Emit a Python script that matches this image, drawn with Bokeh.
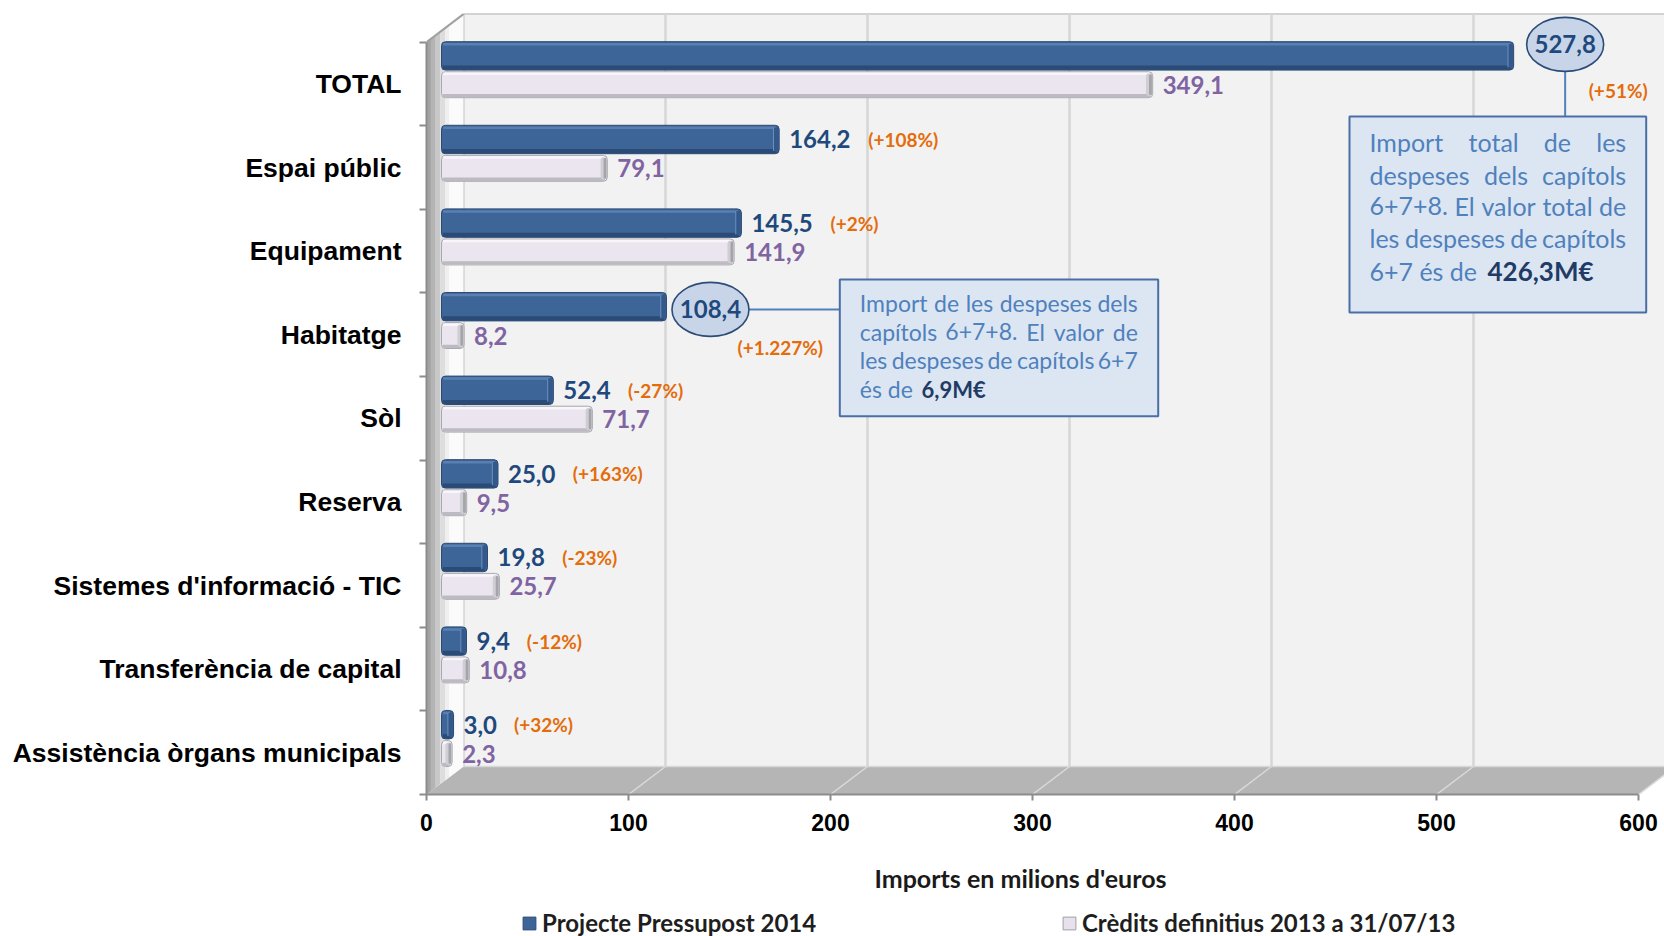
from bokeh.plotting import figure
from bokeh.layouts import column
from bokeh.models import Range1d, FixedTicker, Legend, LegendItem
from bokeh.core.properties import value
from bokeh.embed import file_html
from bokeh.resources import INLINE

# ---------------- data ----------------
categories = ["TOTAL", "Espai públic", "Equipament", "Habitatge", "Sòl", "Reserva",
              "Sistemes d'informació - TIC", "Transferència de capital",
              "Assistència òrgans municipals"]
proj_2014 = [527.8, 164.2, 145.5, 108.4, 52.4, 25.0, 19.8, 9.4, 3.0]
cred_2013 = [349.1, 79.1, 141.9, 8.2, 71.7, 9.5, 25.7, 10.8, 2.3]
pct_change = ["(+51%)", "(+108%)", "(+2%)", "(+1.227%)", "(-27%)", "(+163%)",
              "(-23%)", "(-12%)", "(+32%)"]
x_ticks = [0, 100, 200, 300, 400, 500, 600]
series_names = ["Projecte Pressupost 2014", "Crèdits definitius 2013 a 31/07/13"]
x_title = "Imports en milions d'euros"
note_total = [["Import", "total", "de", "les"],
              ["despeses", "dels", "capítols"],
              ["6+7+8.", "El", "valor", "total", "de"],
              ["les", "despeses", "de", "capítols"]]
note_total_last = ("6+7 és de", "426,3M€")
note_hab = [["Import", "de", "les", "despeses", "dels"],
            ["capítols", "6+7+8.", "El", "valor", "de"],
            ["les", "despeses", "de", "capítols", "6+7"]]
note_hab_last = ("és de", "6,9M€")

# ---------------- geometry helpers (page px -> data units) ----------------
W = 1664
X0, Y0, PX, PY = 426.0, 794.0, 2.02, 83.6
TOP = 9
H1 = 842
def ux(px): return (px - X0) / PX
def uy(py): return (Y0 - py) / PY
def dxu(d): return d / PX
def dyu(d): return -d / PY

n = len(categories)
XMAX = x_ticks[-1]
DX, DY = dxu(37), 28 / PY

p = figure(width=W, height=H1, x_range=Range1d(0, (W - X0) / PX), y_range=Range1d(0, (Y0 - TOP) / PY),
           min_border_left=int(X0), min_border_right=0, min_border_top=TOP,
           min_border_bottom=H1 - int(Y0), output_backend="svg", toolbar_location=None)
p.background_fill_color = "white"
p.border_fill_color = "white"
p.outline_line_color = None
p.xgrid.grid_line_color = None
p.ygrid.grid_line_color = None

# ---------------- 3D walls ----------------
p.quad(left=DX, right=XMAX + DX + 20, bottom=DY, top=n + DY, fill_color="#f2f2f2", line_color=None)
p.line([DX, XMAX + DX + 20], [n + DY, n + DY], line_color="#d2d2d2", line_width=2)
gx = [DX + t for t in x_ticks[1:]]
p.segment(x0=gx, y0=[DY] * len(gx), x1=gx, y1=[n + DY] * len(gx), line_color="#d6d6d6", line_width=2.5)
p.segment(x0=[DX], y0=[DY], x1=[DX], y1=[n + DY], line_color="#c4c4c4", line_width=2)
# floor
p.patch([0, XMAX, XMAX + DX, DX], [0, 0, DY, DY], fill_color="#b5b5b5", line_color=None)
fx = [t for t in x_ticks[1:]]
p.segment(x0=fx, y0=[0] * len(fx), x1=[t + DX for t in fx], y1=[DY] * len(fx),
          line_color="#dadada", line_width=1.5)
p.line([DX, XMAX + DX], [DY, DY], line_color="#d8d8d8", line_width=1.5)
# left wall
strips = [(0.0, 0.12, "#a3a3a3"), (0.12, 0.25, "#b4b4b4"), (0.25, 0.38, "#c8c8c8"),
          (0.38, 0.5, "#dddddd"), (0.5, 0.62, "#efefef"), (0.62, 1.0, "#fbfbfb")]
for f0, f1, c in strips:
    p.patch([f0 * DX, f1 * DX, f1 * DX, f0 * DX], [f0 * DY, f1 * DY, n + f1 * DY, n + f0 * DY],
            fill_color=c, line_color=None)
p.line([0, DX], [n, n + DY], line_color="#a0a0a0", line_width=2)

# ---------------- bars ----------------
BX, CAP = dxu(15), dxu(6)
band_top = [n - i for i in range(n)]
DH, LH = 0.34, 0.31
dark_y = [t - 0.165 for t in band_top]
light_y = [t - 0.51 for t in band_top]
dark_r = [BX + v + CAP for v in proj_2014]
light_r = [BX + v + CAP for v in cred_2013]

p.hbar(y=dark_y, left=BX, right=dark_r, height=DH, fill_color="#3e6597",
       line_color="#2b4a75", line_width=1, border_radius=4)
p.hbar(y=[y - DH / 2 + 0.03 for y in dark_y], left=BX + 0.6, right=[r - 1.2 for r in dark_r],
       height=0.05, fill_color="#2b4b77", line_color=None)
p.hbar(y=[y + DH / 2 - 0.03 for y in dark_y], left=BX + 0.8, right=[r - 1.5 for r in dark_r],
       height=0.03, fill_color="#5a80b2", line_color=None)
p.hbar(y=dark_y, left=[r - 2.8 for r in dark_r], right=[r - 0.4 for r in dark_r], height=DH * 0.86,
       fill_color="#34588a", line_color=None, border_radius=3)
p.segment(x0=[r - 2.8 for r in dark_r], y0=[y - DH * 0.4 for y in dark_y],
          x1=[r - 2.8 for r in dark_r], y1=[y + DH * 0.4 for y in dark_y],
          line_color="#6b90c2", line_width=1)

p.hbar(y=light_y, left=BX, right=light_r, height=LH, fill_color="#ebe5f0",
       line_color="#a8a8b0", line_width=1, border_radius=4)
p.hbar(y=[y - LH / 2 + 0.025 for y in light_y], left=BX + 0.6, right=[r - 1.2 for r in light_r],
       height=0.04, fill_color="#bdbac2", line_color=None)
p.hbar(y=[y + LH / 2 - 0.025 for y in light_y], left=BX + 0.8, right=[r - 1.5 for r in light_r],
       height=0.03, fill_color="#f8f5fb", line_color=None)
p.hbar(y=light_y, left=[r - 3.3 for r in light_r], right=[r - 0.4 for r in light_r], height=LH * 0.86,
       fill_color="#cfcfd3", line_color=None, border_radius=3)
p.hbar(y=light_y, left=[r - 1.8 for r in light_r], right=[r - 0.4 for r in light_r], height=LH * 0.8,
       fill_color="#a4a4aa", line_color=None, border_radius=2)

# ---------------- labels ----------------
CW = {'a': .50, 'b': .56, 'c': .46, 'd': .56, 'e': .53, 'f': .32, 'g': .50, 'h': .56, 'i': .24,
      'j': .24, 'k': .50, 'l': .24, 'm': .85, 'n': .56, 'o': .56, 'p': .56, 'q': .56, 'r': .36,
      's': .42, 't': .34, 'u': .56, 'v': .50, 'w': .77, 'x': .49, 'y': .50, 'z': .45, 'í': .24,
      'é': .53, 'è': .53, 'ò': .56, 'ú': .56, 'E': .56, 'I': .27, 'M': .88, '+': .58, '.': .22,
      ',': .23, ' ': .19, '€': .58, '(': .30, ')': .30, '%': .80, '-': .34}
def text_w(s, size, bold=False):
    return sum(CW.get(c, .58) for c in s) * size * (1.03 if bold else 1.0)

fmt = lambda v: f"{v:.1f}".replace(".", ",")
dark_lbl = [fmt(v) for v in proj_2014]
light_lbl = [fmt(v) for v in cred_2013]

callouts = {0: dict(edx=51.5, edy=-11.5, pdx=23.5, pdy=46.0),
            3: dict(edx=44.0, edy=2.7, pdx=27.0, pdy=37.7)}
normal = [i for i in range(n) if i not in callouts]

VF = value("Lato")
VS = "24px"
p.text(x=[light_r[i] + dxu(10) for i in range(n)], y=light_y, text=light_lbl,
       text_font=VF, text_font_style="bold", text_font_size=VS, text_color="#8064a2",
       text_baseline="middle", text_align="left")
dlx = [dark_r[i] + dxu(10) for i in normal]
p.text(x=dlx, y=[dark_y[i] for i in normal], text=[dark_lbl[i] for i in normal],
       text_font=VF, text_font_style="bold", text_font_size=VS, text_color="#1f497d",
       text_baseline="middle", text_align="left")
p.text(x=[dlx[k] + dxu(text_w(dark_lbl[i], 24, True) + 16) for k, i in enumerate(normal)],
       y=[dark_y[i] for i in normal], text=[pct_change[i] for i in normal],
       text_font=VF, text_font_style="bold", text_font_size="19px", text_color="#e46c0a",
       text_baseline="middle", text_align="left")

# callout ellipses
ci = list(callouts)
ex = [dark_r[i] + dxu(callouts[i]["edx"]) for i in ci]
ey = [dark_y[i] + dyu(callouts[i]["edy"]) for i in ci]
EW, EH = dxu(77), 54 / PY
p.segment(x0=[ex[0]], y0=[ey[0] - EH / 2], x1=[ex[0]], y1=[uy(116)], line_color="#4f81bd", line_width=2)
p.segment(x0=[ex[1] + EW / 2], y0=[ey[1]], x1=[ux(839.3)], y1=[ey[1]], line_color="#4f81bd", line_width=2)
p.ellipse(x=ex, y=ey, width=EW, height=EH, fill_color="#c8d5e8", line_color="#2c4c78", line_width=1.6)
p.text(x=ex, y=ey, text=[dark_lbl[i] for i in ci], text_font=VF, text_font_style="bold",
       text_font_size=VS, text_color="#1f497d", text_baseline="middle", text_align="center")
p.text(x=[ex[k] + dxu(callouts[i]["pdx"]) for k, i in enumerate(ci)],
       y=[ey[k] + dyu(callouts[i]["pdy"]) for k, i in enumerate(ci)],
       text=[pct_change[i] for i in ci], text_font=VF, text_font_style="bold",
       text_font_size="19px", text_color="#e46c0a", text_baseline="middle", text_align="left")

# note boxes
boxes = [(1349, 1645.7, 116, 312), (839.3, 1157.7, 279, 415.7)]
p.quad(left=[ux(b[0]) for b in boxes], right=[ux(b[1]) for b in boxes],
       top=[uy(b[2]) for b in boxes], bottom=[uy(b[3]) for b in boxes],
       fill_color="#dce6f2", line_color="#4a6fa6", line_width=2)

def add_note(lines, last, left, right, ys, size, bsize, bold_x):
    lx, ly, lt, rx, ry, rt = [], [], [], [], [], []
    for words, yy in zip(lines, ys):
        ws = [text_w(w, size) for w in words]
        gap = (right - left - sum(ws)) / (len(words) - 1)
        x = left
        for k, (w, wd) in enumerate(zip(words, ws)):
            if k == len(words) - 1:
                rx.append(ux(right)); ry.append(uy(yy)); rt.append(w)
            else:
                lx.append(ux(x)); ly.append(uy(yy)); lt.append(w)
            x += wd + gap
    lx.append(ux(left)); ly.append(uy(ys[len(lines)])); lt.append(last[0])
    p.text(x=lx, y=ly, text=lt, text_font=VF, text_font_size=f"{size}px", text_color="#4f81bd",
           text_baseline="middle", text_align="left")
    p.text(x=rx, y=ry, text=rt, text_font=VF, text_font_size=f"{size}px", text_color="#4f81bd",
           text_baseline="middle", text_align="right")
    p.text(x=[ux(bold_x)], y=[uy(ys[len(lines)])], text=[last[1]], text_font=VF, text_font_style="bold",
           text_font_size=f"{bsize}px", text_color="#1f3b66", text_baseline="middle", text_align="left")

add_note(note_total, note_total_last, 1369, 1625.7, [141, 174, 205, 237, 270], 25, 26, 1487)
add_note(note_hab, note_hab_last, 859.3, 1137.3, [302.3, 331.3, 359.7, 388.7], 23, 22, 921)

# ---------------- axes ----------------
ya = p.yaxis[0]
centers = [n - i - 0.5 for i in range(n)]
ya.ticker = FixedTicker(ticks=centers, minor_ticks=list(range(n + 1)))
ya.major_label_overrides = {c: lab for c, lab in zip(centers, categories)}
ya.major_label_text_font = "Liberation Sans"
ya.major_label_text_font_style = "bold"
ya.major_label_text_font_size = "26.5px"
ya.major_label_text_color = "black"
ya.major_tick_line_color = None
ya.major_tick_out = 0
ya.major_tick_in = 0
ya.minor_tick_out = 7
ya.minor_tick_in = 0
ya.minor_tick_line_color = "#8c8c8c"
ya.minor_tick_line_width = 2
ya.axis_line_color = "#8c8c8c"
ya.axis_line_width = 2
ya.bounds = (0, n)
ya.major_label_standoff = 18

xa = p.xaxis[0]
xa.ticker = FixedTicker(ticks=x_ticks, minor_ticks=[])
xa.major_label_text_font = "Liberation Sans"
xa.major_label_text_font_style = "bold"
xa.major_label_text_font_size = "23px"
xa.major_label_text_color = "black"
xa.major_tick_out = 6
xa.major_tick_in = 0
xa.major_tick_line_color = "#8c8c8c"
xa.major_tick_line_width = 2
xa.minor_tick_line_color = None
xa.axis_line_color = "#8c8c8c"
xa.axis_line_width = 2
xa.bounds = (0, XMAX)
xa.major_label_standoff = 13

# ---------------- bottom strip: axis title + legend ----------------
# (column aligns frames, so this strip shares the main chart's x mapping)
H2 = 936 - H1
q = figure(width=W, height=H2, x_range=Range1d(0, (W - X0) / PX), y_range=Range1d(0, H2),
           min_border_left=int(X0), min_border_right=0, min_border_top=0, min_border_bottom=0,
           x_axis_location=None, y_axis_location=None,
           output_backend="svg", toolbar_location=None)
q.background_fill_color = "white"
q.border_fill_color = "white"
q.outline_line_color = None
q.xgrid.grid_line_color = None
q.ygrid.grid_line_color = None
q.text(x=[ux(1020)], y=[936 - 877], text=[x_title], text_font=VF, text_font_style="bold",
       text_font_size="25px", text_color="#1a1a1a", text_align="center", text_baseline="middle")

r1 = q.hbar(y=[-1000], right=[1], height=1, fill_color="#3e6597", line_color="#2b4a75")
r2 = q.hbar(y=[-1000], right=[1], height=1, fill_color="#e6e1ec", line_color="#a0a0a6")
for r, name, lx in [(r1, series_names[0], 521), (r2, series_names[1], 1061)]:
    lg = Legend(items=[LegendItem(label=name, renderers=[r])], location=(lx - X0, -1),
                orientation="horizontal", border_line_color=None, background_fill_alpha=0,
                padding=0, margin=0, glyph_width=16, glyph_height=16, label_standoff=5,
                label_text_font="Lato", label_text_font_style="bold", label_text_font_size="24px",
                label_text_color="#1e1e1e")
    q.add_layout(lg)

layout = column(p, q, spacing=0)
open("out.html", "w").write(file_html(layout, INLINE))
